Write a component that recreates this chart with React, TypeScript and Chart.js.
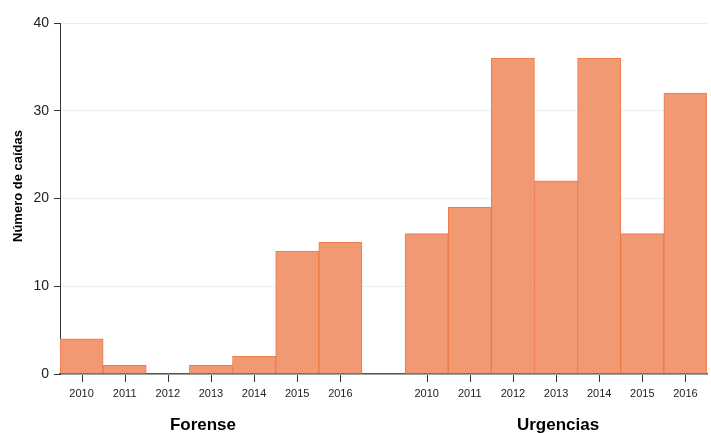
import React, { useEffect, useRef } from "react";
import { Chart, registerables } from "chart.js";
Chart.register(...registerables);

const years = ["2010", "2011", "2012", "2013", "2014", "2015", "2016"];
const groups = ["Forense", "Urgencias"];
const forense = [4, 1, 0, 1, 2, 14, 15];
const urgencias = [16, 19, 36, 22, 36, 16, 32];
const yTicks = [0, 10, 20, 30, 40];
const yTitle = "Número de caídas";

const FONT = "'Liberation Sans', Arial, sans-serif";

const labels = [...years, "", ...years];
const values: (number | null)[] = [...forense, null, ...urgencias];

const textPlugin = {
  id: "texts",
  afterDraw(chart: any) {
    const ctx = chart.ctx;
    const x = chart.scales.x;
    const bottom = chart.chartArea.bottom;
    ctx.save();
    ctx.strokeStyle = "#333";
    ctx.lineWidth = 1;
    labels.forEach((l, i) => {
      if (!l) return;
      const px = Math.round(x.getPixelForValue(i)) + 0.5;
      ctx.beginPath();
      ctx.moveTo(px, bottom + 1);
      ctx.lineTo(px, bottom + 8);
      ctx.stroke();
    });
    ctx.fillStyle = "#000";
    ctx.font = `bold 17px ${FONT}`;
    ctx.textAlign = "center";
    ctx.textBaseline = "middle";
    const g1 = (x.getPixelForValue(0) + x.getPixelForValue(6)) / 2 - 8;
    const g2 = (x.getPixelForValue(8) + x.getPixelForValue(14)) / 2 + 2;
    ctx.fillText(groups[0], g1, 425);
    ctx.fillText(groups[1], g2, 425);
    ctx.translate(18, 186);
    ctx.rotate(-Math.PI / 2);
    ctx.font = `bold 13px ${FONT}`;
    ctx.fillText(yTitle, 0, 0);
    ctx.restore();
  },
};

export default function App() {
  const ref = useRef<HTMLCanvasElement>(null);
  useEffect(() => {
    if (!ref.current) return;
    const chart = new Chart(ref.current, {
      type: "bar",
      data: {
        labels,
        datasets: [
          {
            data: values,
            backgroundColor: "rgb(240,153,114)",
            borderColor: "rgb(238,122,72)",
            borderWidth: 1,
            categoryPercentage: 1,
            barPercentage: 1,
          },
        ],
      },
      plugins: [textPlugin],
      options: {
        animation: false,
        responsive: false,
        layout: { padding: { top: 23, right: 4, left: 0, bottom: 0 } },
        plugins: { legend: { display: false }, tooltip: { enabled: false } },
        scales: {
          x: {
            afterFit: (s: any) => {
              s.height = 59;
            },
            border: { display: true, color: "#555", width: 1.5 },
            grid: {
              drawOnChartArea: false,
              drawTicks: true,
              tickLength: 8,
              tickColor: "rgba(0,0,0,0)",
            },
            ticks: {
              autoSkip: false,
              maxRotation: 0,
              color: "#222",
              padding: 5,
              font: { size: 11, family: FONT },
            },
          },
          y: {
            min: 0,
            max: 40,
            afterFit: (s: any) => {
              s.width = 60;
            },
            afterBuildTicks: (s: any) => {
              s.ticks = yTicks.map((v) => ({ value: v }));
            },
            border: { display: true, color: "#333", width: 1 },
            grid: {
              color: "#e6eff1",
              tickColor: "#333",
              tickLength: 6,
            },
            ticks: {
              color: "#222",
              padding: 5,
              font: { size: 14, family: FONT },
            },
          },
        },
      },
    });
    return () => chart.destroy();
  }, []);
  return (
    <div style={{ position: "absolute", left: 0, top: 0, width: 711, height: 433 }}>
      <canvas ref={ref} width={711} height={433} style={{ display: "block" }} />
    </div>
  );
}
